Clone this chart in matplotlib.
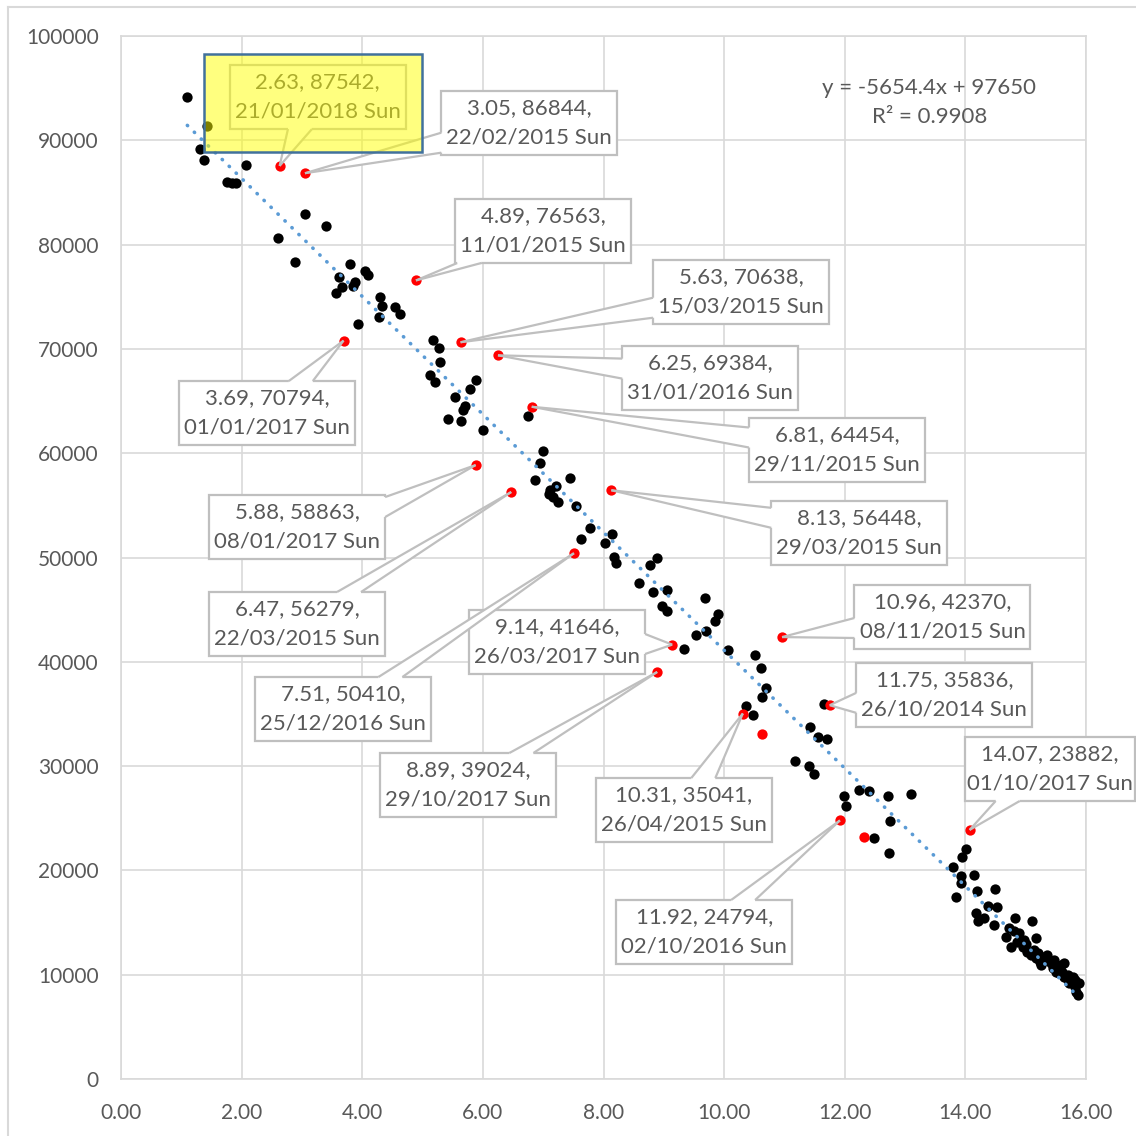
import matplotlib.pyplot as plt
from matplotlib.patches import Rectangle, Polygon
from matplotlib.lines import Line2D
import numpy as np

plt.rcParams['font.family'] = ['Lato', 'DejaVu Sans']

# black points (x, y)
pts_x = [1.10, 1.42, 1.31, 1.38, 1.75, 1.84, 1.91, 2.07, 3.05, 3.40, 2.61, 2.89, 3.80, 4.05, 4.09,
         3.62, 3.88, 3.85, 3.66, 3.56, 4.29, 4.33, 4.55, 4.63, 4.27, 3.93, 5.17, 5.27, 5.29, 5.13,
         5.20, 5.89, 5.78, 5.53, 5.71, 5.67, 5.42, 5.64, 6.00, 6.75, 6.99, 6.94, 6.86, 7.45, 7.22,
         7.11, 7.09, 7.16, 7.24, 7.55, 7.77, 7.63, 8.14, 8.02, 8.17, 8.20, 8.89, 8.77, 8.59, 8.82,
         9.05, 8.97, 9.06, 9.54, 9.70, 9.34, 9.69, 9.90, 9.85, 10.07, 10.52, 10.61, 10.70, 10.63,
         10.36, 10.48, 11.66, 11.42, 11.55, 11.70, 11.18, 11.41, 11.49, 11.98, 12.02, 12.24, 12.40,
         12.71, 13.10, 12.75, 12.49, 12.74, 14.01, 13.95, 13.79, 13.93, 13.92, 14.14, 13.84, 14.20,
         14.49, 14.37, 14.52, 14.18, 14.21, 14.31, 14.48, 14.82, 15.10, 14.73, 14.67, 14.75, 14.89,
         15.17, 14.97, 14.95, 15.03, 15.09, 15.17, 15.23, 15.25, 15.14, 15.20, 15.31, 15.36, 15.42,
         15.45, 15.50, 15.58, 15.64, 15.56, 15.64, 15.70, 15.72, 15.78, 15.81, 15.84, 15.86, 15.89,
         15.36, 15.47, 14.85, 15.00, 15.28, 15.55, 15.70, 15.82, 14.80, 15.60]
pts_y = [94180, 91370, 89170, 88110, 86030, 85930, 85880, 87600, 82930, 81780, 80600, 78330, 78100, 77500, 77080,
         76860, 76380, 76060, 75970, 75330, 75010, 74110, 73980, 73350, 73090, 72390, 70850, 70060, 68780, 67500,
         66860, 67020, 66160, 65420, 64530, 64140, 63250, 63120, 62220, 63570, 60210, 59090, 57430, 57590, 56860,
         56470, 56090, 55830, 55350, 54970, 52860, 51750, 52220, 51360, 50020, 49440, 49920, 49280, 47530, 46720,
         46880, 45350, 44900, 42570, 42990, 41230, 46150, 44580, 43940, 41130, 40650, 39380, 37460, 36660,
         35790, 34900, 35950, 33780, 32820, 32600, 30490, 30040, 29240, 27130, 26170, 27710, 27640,
         27130, 27320, 24740, 23140, 21640, 22050, 21320, 20300, 19460, 18820, 19560, 17480, 18020,
         18190, 16590, 16530, 15890, 15180, 15410, 14760, 15410, 15150, 14450, 13640, 12630, 13970,
         13490, 13330, 12690, 12210, 11890, 11570, 11250, 10930, 12370, 12050, 11730, 11410, 11090,
         10610, 10290, 10930, 11090, 10130, 9810, 9490, 9180, 9810, 8850, 8370, 8050, 9180,
         11890, 11410, 13100, 12900, 11500, 10500, 10000, 9500, 14200, 10300]

# labelled red points
lab_x = [2.63, 3.05, 4.89, 5.63, 6.25, 6.81, 3.69, 5.88, 6.47, 8.13, 9.14, 7.51, 8.89, 10.96, 11.75, 10.31, 11.92, 14.07]
lab_y = [87542, 86844, 76563, 70638, 69384, 64454, 70794, 58863, 56279, 56448, 41646, 50410, 39024, 42370, 35836, 35041, 24794, 23882]
lab_date = ['21/01/2018 Sun', '22/02/2015 Sun', '11/01/2015 Sun', '15/03/2015 Sun', '31/01/2016 Sun',
            '29/11/2015 Sun', '01/01/2017 Sun', '08/01/2017 Sun', '22/03/2015 Sun', '29/03/2015 Sun',
            '26/03/2017 Sun', '25/12/2016 Sun', '29/10/2017 Sun', '08/11/2015 Sun', '26/10/2014 Sun',
            '26/04/2015 Sun', '02/10/2016 Sun', '01/10/2017 Sun']
# where each callout box sits (data units)
box_pos = [(3.26, 94150), (6.77, 91660), (7.00, 81300), (10.28, 75460), (9.77, 67210), (11.87, 60310),
           (2.42, 63850), (2.92, 52920), (2.92, 43620), (12.24, 52350), (7.23, 41900), (3.68, 35470),
           (5.75, 28190), (13.62, 44300), (13.65, 36820), (9.33, 25790), (9.67, 14090), (15.40, 29720)]

# other red points without label
red_x = [10.62, 12.32]
red_y = [33080, 23170]

# trendline shown on the chart
slope = -5654.4
intercept = 97650
r2 = 0.9908

fig = plt.figure(figsize=(11.36, 11.36), dpi=100)
ax = fig.add_axes([121/1136, 57/1136, 965/1136, 1043/1136])
ax.set_xlim(0, 16)
ax.set_ylim(0, 100000)
ax.set_xticks(np.arange(0, 17, 2))
ax.set_yticks(np.arange(0, 100001, 10000))
ax.set_xticklabels(['%.2f' % v for v in np.arange(0, 17, 2)])
ax.set_yticklabels(['%d' % v for v in np.arange(0, 100001, 10000)])
ax.tick_params(length=0, labelsize=15, labelcolor='#595959')
ax.tick_params(axis='y', pad=16)
ax.tick_params(axis='x', pad=17)
ax.grid(True, color='#D9D9D9', lw=1.2)
ax.set_axisbelow(True)
for s in ax.spines.values():
    s.set_color('#D9D9D9')
    s.set_linewidth(1.2)

# outer chart border
fig.add_artist(Line2D([8/1136, 8/1136], [0, 1 - 7/1136], color='#D9D9D9', lw=1.5))
fig.add_artist(Line2D([8/1136, 1], [1 - 7/1136, 1 - 7/1136], color='#D9D9D9', lw=1.5))

ax.scatter(pts_x, pts_y, s=55, color='black', zorder=3, linewidths=0)
ax.scatter(red_x, red_y, s=55, color='#FF0000', zorder=3, linewidths=0)
ax.scatter(lab_x, lab_y, s=55, color='#FF0000', zorder=4, linewidths=0)

all_x = pts_x + lab_x + red_x
xs = np.array([min(all_x), max(all_x)])
ax.plot(xs, slope * xs + intercept, color='#5B9BD5', lw=2.6, linestyle=(0, (0.1, 2.6)),
        dash_capstyle='round', zorder=3.5)

ax.text(13.4, 93650, 'y = -5654.4x + 97650\nR² = %.4f' % r2, ha='center', va='center',
        fontsize=16, color='#595959', linespacing=1.55)

# callouts
fig.canvas.draw()
inv = ax.transData.inverted()
W, H = 88, 32
for i in range(len(lab_x)):
    cx, cy = ax.transData.transform(box_pos[i])
    px, py = ax.transData.transform((lab_x[i], lab_y[i]))
    w = 85 if i == 17 else W
    dx, dy = px - cx, py - cy
    if abs(dx) * H > abs(dy) * w:
        sx = np.sign(dx)
        ex = cx + sx * w
        ey = cy + dy * w / abs(dx)
        ey = min(max(ey, cy - H + 12), cy + H - 12)
        b1, b2 = (ex, ey - 10), (ex, ey + 10)
        b1i, b2i = (ex - sx * 4, ey - 10), (ex - sx * 4, ey + 10)
    else:
        sy = np.sign(dy)
        ey = cy + sy * H
        ex = cx + dx * H / abs(dy)
        ex = min(max(ex, cx - w + 14), cx + w - 14)
        b1, b2 = (ex - 12, ey), (ex + 12, ey)
        b1i, b2i = (ex - 12, ey - sy * 4), (ex + 12, ey - sy * 4)
    d = lambda p: inv.transform(p)
    c0 = d((cx - w, cy - H))
    c1 = d((cx + w, cy + H))
    ax.add_patch(Rectangle(c0, c1[0] - c0[0], c1[1] - c0[1], facecolor='white',
                           edgecolor='#BFBFBF', lw=1.6, zorder=5, clip_on=False))
    ax.add_patch(Polygon([d(b1i), d(b1), d((px, py)), d(b2), d(b2i)], closed=True,
                         facecolor='white', edgecolor='none', zorder=5.1, clip_on=False))
    for b in (b1, b2):
        q = d(b)
        r = d((px, py))
        ax.plot([q[0], r[0]], [q[1], r[1]], color='#BFBFBF', lw=1.6, zorder=5.2,
                clip_on=False, solid_capstyle='butt')
    ax.text(box_pos[i][0], box_pos[i][1], '%.2f, %d,\n%s' % (lab_x[i], lab_y[i], lab_date[i]),
            ha='center', va='center', fontsize=16, color='#595959', linespacing=1.6,
            zorder=6, clip_on=False)

# highlighted label
h0 = inv.transform((204, 1136 - 152))
h1 = inv.transform((422, 1136 - 54))
ax.add_patch(Rectangle(h0, h1[0] - h0[0], h1[1] - h0[1], facecolor='#FFFF00', alpha=0.5,
                       edgecolor='none', zorder=7, clip_on=False))
ax.add_patch(Rectangle(h0, h1[0] - h0[0], h1[1] - h0[1], facecolor='none',
                       edgecolor='#41719C', lw=1.8, zorder=7.1, clip_on=False))

fig.savefig('out.png', dpi=100)
